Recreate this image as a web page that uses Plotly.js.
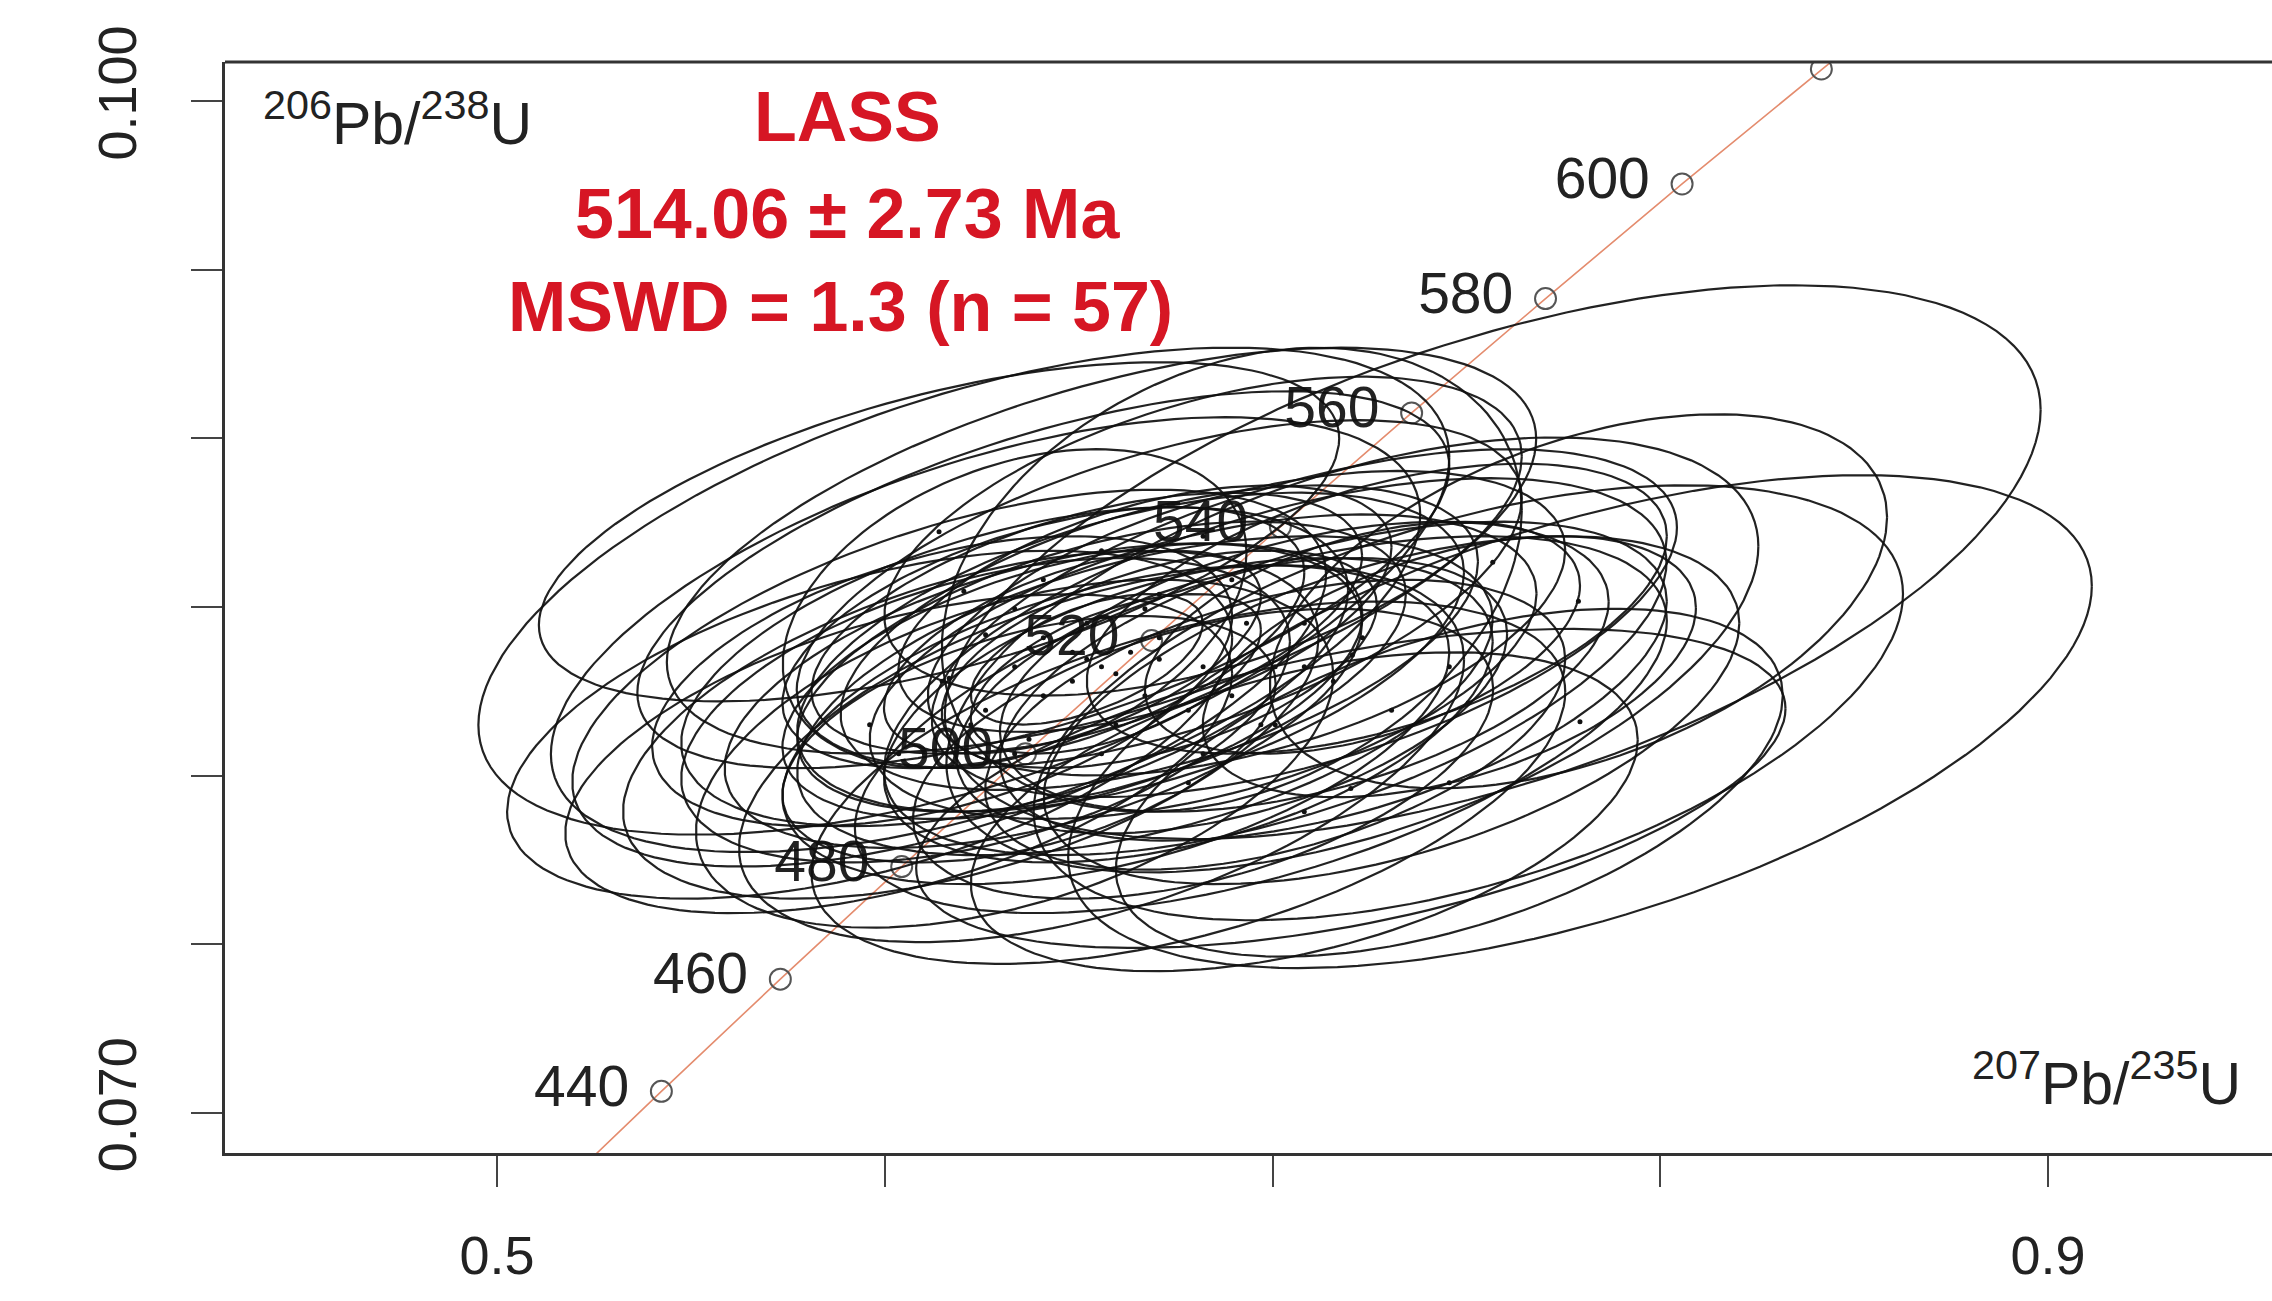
<!DOCTYPE html>
<html><head><meta charset="utf-8">
<script src="https://cdn.plot.ly/plotly-3.0.1.min.js"></script>
<style>html,body{margin:0;padding:0;background:#fff}#chart{width:2272px;height:1301px}</style>
</head><body><div id="chart"></div>
<script>
// Concordia (Wetherill) reference points, ages in Ma
const concordiaAges = [400, 420, 440, 460, 480, 500, 520, 540, 560, 580, 600, 620, 640];
const concordiaX = [0.48281, 0.51231, 0.54239, 0.57307, 0.60437, 0.63628, 0.66883, 0.70203, 0.73588, 0.77041, 0.80563, 0.84155, 0.87818];
const concordiaY = [0.064016, 0.067322, 0.070638, 0.073965, 0.077302, 0.080650, 0.084008, 0.087376, 0.090755, 0.094144, 0.097544, 0.100954, 0.104376];
const tickAgeLabels = ["", "", "440", "460", "480", "500", "520", "540", "560", "580", "600", "", ""];
const showMarker = [false, false, true, true, true, true, true, true, true, true, true, true, false];

// Error ellipses: centre (207Pb/235U, 206Pb/238U), half-extents, error correlation
const ellCx = [0.7568,0.7793,0.7789,0.7505,0.7206,0.7202,0.6204,0.6140,0.6260,0.6166,
               0.6222,0.6335,0.6895,0.7082,0.7007,0.7157,0.7269,0.6970,0.7307,0.6783,
               0.7082,0.6559,0.7456,0.6335,0.6036,0.5961,0.6559,0.6409,0.6708,0.6821,
               0.6559,0.6634,0.6484,0.6708,0.6409,0.6821,0.6521,0.6671,0.6335,0.6933,
               0.6596,0.6783,0.6260,0.7082,0.6484,0.6596,0.6521,0.6708,0.6409,0.6895,
               0.7007,0.6148,0.7232,0.6671,0.6821,0.6372,0.7456];
const ellCy = [0.08633,0.08160,0.08517,0.08216,0.08358,0.07962,0.08547,0.08723,0.08418,0.08289,
               0.08151,0.08495,0.08581,0.08452,0.08323,0.08280,0.08495,0.08151,0.08194,0.07979,
               0.07893,0.08065,0.07979,0.08065,0.08065,0.08151,0.08667,0.08581,0.08538,0.08710,
               0.08323,0.08366,0.08280,0.08409,0.08237,0.08323,0.08452,0.08237,0.08323,0.08452,
               0.08151,0.08194,0.08194,0.08323,0.08366,0.08302,0.08345,0.08345,0.08409,0.08237,
               0.08151,0.08280,0.08409,0.08495,0.08065,0.08108,0.08323];
const ellSx = [0.1413,0.1320,0.0796,0.1121,0.1047,0.1121,0.1252,0.1032,0.1121,0.0972,
               0.0897,0.0598,0.0748,0.0961,0.1009,0.0860,0.0748,0.1047,0.0897,0.0972,
               0.0860,0.0935,0.0860,0.0822,0.0860,0.0935,0.1121,0.1047,0.0935,0.0822,
               0.0785,0.0860,0.0748,0.0822,0.0822,0.0860,0.0710,0.0897,0.0860,0.0822,
               0.0860,0.0785,0.0785,0.0785,0.0486,0.0374,0.0299,0.0561,0.0673,0.0710,
               0.0748,0.0748,0.0561,0.0636,0.0748,0.0636,0.0636];
const ellSy = [0.008211,0.007309,0.005546,0.006449,0.006449,0.004729,0.007223,0.005030,0.006449,0.005589,
               0.005159,0.004729,0.006879,0.005159,0.005589,0.004729,0.004299,0.005589,0.005159,0.005374,
               0.004729,0.005589,0.005159,0.005159,0.004729,0.005159,0.006019,0.005589,0.005159,0.004729,
               0.004299,0.004729,0.004084,0.004514,0.004514,0.004514,0.003869,0.004729,0.004729,0.004514,
               0.004729,0.004514,0.004514,0.004299,0.003009,0.002365,0.001935,0.003224,0.003869,0.004084,
               0.004299,0.004299,0.003439,0.003654,0.004299,0.003654,0.003869];
const ellRho = [0.55,0.55,0.45,0.50,0.50,0.50,0.55,0.55,0.55,0.55,
                0.50,0.35,0.30,0.55,0.55,0.50,0.50,0.55,0.50,0.50,
                0.45,0.50,0.50,0.45,0.50,0.50,0.55,0.60,0.55,0.50,
                0.50,0.50,0.48,0.50,0.48,0.48,0.52,0.48,0.48,0.48,
                0.45,0.45,0.45,0.45,0.55,0.55,0.55,0.50,0.50,0.45,
                0.45,0.45,0.45,0.50,0.45,0.45,0.45];

const resultLines = ["LASS", "514.06 ± 2.73 Ma", "MSWD = 1.3 (n = 57)"];

const FONT = "'Liberation Sans', Arial, Helvetica, sans-serif";
const TXT = "#222222";

// ellipse outlines
const ex = [], ey = [];
const NP = 140;
for (let i = 0; i < ellCx.length; i++) {
  const s = Math.sqrt(1 - ellRho[i] * ellRho[i]);
  for (let k = 0; k <= NP; k++) {
    const t = 2 * Math.PI * k / NP;
    ex.push(ellCx[i] + ellSx[i] * Math.cos(t));
    ey.push(ellCy[i] + ellSy[i] * (ellRho[i] * Math.cos(t) + s * Math.sin(t)));
  }
  ex.push(null); ey.push(null);
}

const mX = [], mY = [], lX = [], lY = [], lT = [];
for (let i = 0; i < concordiaAges.length; i++) {
  if (showMarker[i]) { mX.push(concordiaX[i]); mY.push(concordiaY[i]); }
  if (tickAgeLabels[i]) { lX.push(concordiaX[i]); lY.push(concordiaY[i]); lT.push(tickAgeLabels[i]); }
}

const traces = [
  { x: concordiaX, y: concordiaY, mode: 'lines', type: 'scatter',
    line: { color: 'rgb(228,140,110)', width: 1.6 }, hoverinfo: 'skip' },
  { x: lX, y: lY, text: lT, mode: 'markers+text', type: 'scatter', textposition: 'middle left',
    marker: { size: 50, opacity: 0 }, textfont: { family: FONT, size: 57, color: TXT }, hoverinfo: 'skip' },
  { x: mX, y: mY, mode: 'markers', type: 'scatter',
    marker: { symbol: 'circle-open', size: 21, color: '#555', line: { width: 2, color: '#555' } }, hoverinfo: 'skip' },
  { x: ex, y: ey, mode: 'lines', type: 'scatter', connectgaps: false,
    line: { color: 'rgba(15,15,15,0.92)', width: 2.2 }, hoverinfo: 'skip' },
  { x: ellCx, y: ellCy, mode: 'markers', type: 'scatter',
    marker: { size: 5, color: '#111' }, hoverinfo: 'skip' }
];

const red = 'rgb(214,22,36)';
const layout = {
  width: 2272, height: 1301,
  margin: { l: 225, r: 0, t: 62, b: 148 },
  paper_bgcolor: '#fff', plot_bgcolor: '#fff',
  showlegend: false,
  font: { family: FONT, color: TXT },
  xaxis: {
    range: [0.42985, 0.95777], showgrid: false, zeroline: false,
    showline: true, linecolor: '#333', linewidth: 3,
    ticks: 'outside', ticklen: 31, tickwidth: 2, tickcolor: '#444',
    tickvals: [0.5, 0.6, 0.7, 0.8, 0.9], ticktext: ['0.5', '', '', '', '0.9'],
    tickfont: { family: FONT, size: 54, color: TXT }, ticklabelstandoff: 22
  },
  yaxis: {
    range: [0.06881, 0.10116], showgrid: false, zeroline: false,
    showline: true, linecolor: '#333', linewidth: 3,
    ticks: 'outside', ticklen: 31, tickwidth: 2, tickcolor: '#444',
    tickvals: [0.070, 0.075, 0.080, 0.085, 0.090, 0.095, 0.100],
    ticktext: ['0.070', '', '', '', '', '', '0.100'],
    tickangle: -90,
    tickfont: { family: FONT, size: 54, color: TXT }, ticklabelstandoff: 33
  },
  shapes: [
    { type: 'line', xref: 'paper', yref: 'paper', x0: 0, x1: 1, y0: 1, y1: 1,
      line: { color: '#333', width: 3 } }
  ],
  annotations: [
    { xref: 'x', yref: 'y', x: 0.5905, y: 0.09953, text: '<b>' + resultLines[0] + '</b>', showarrow: false,
      xanchor: 'center', yanchor: 'middle', font: { family: FONT, size: 70, color: red } },
    { xref: 'x', yref: 'y', x: 0.5905, y: 0.09665, text: '<b>' + resultLines[1] + '</b>', showarrow: false,
      xanchor: 'center', yanchor: 'middle', font: { family: FONT, size: 70, color: red } },
    { xref: 'x', yref: 'y', x: 0.5885, y: 0.09389, text: '<b>' + resultLines[2] + '</b>', showarrow: false,
      xanchor: 'center', yanchor: 'middle', font: { family: FONT, size: 70, color: red } },
    { xref: 'x', yref: 'y', x: 0.43914, y: 0.09947, text: '<sup>206</sup>Pb/<sup>238</sup>U', showarrow: false,
      xanchor: 'left', yanchor: 'middle', font: { family: FONT, size: 59, color: TXT } },
    { xref: 'x', yref: 'y', x: 0.95029, y: 0.07098, text: '<sup>207</sup>Pb/<sup>235</sup>U', showarrow: false,
      xanchor: 'right', yanchor: 'middle', font: { family: FONT, size: 59, color: TXT } }
  ]
};

Plotly.newPlot('chart', traces, layout, { staticPlot: true, displayModeBar: false });
</script>
</body></html>
